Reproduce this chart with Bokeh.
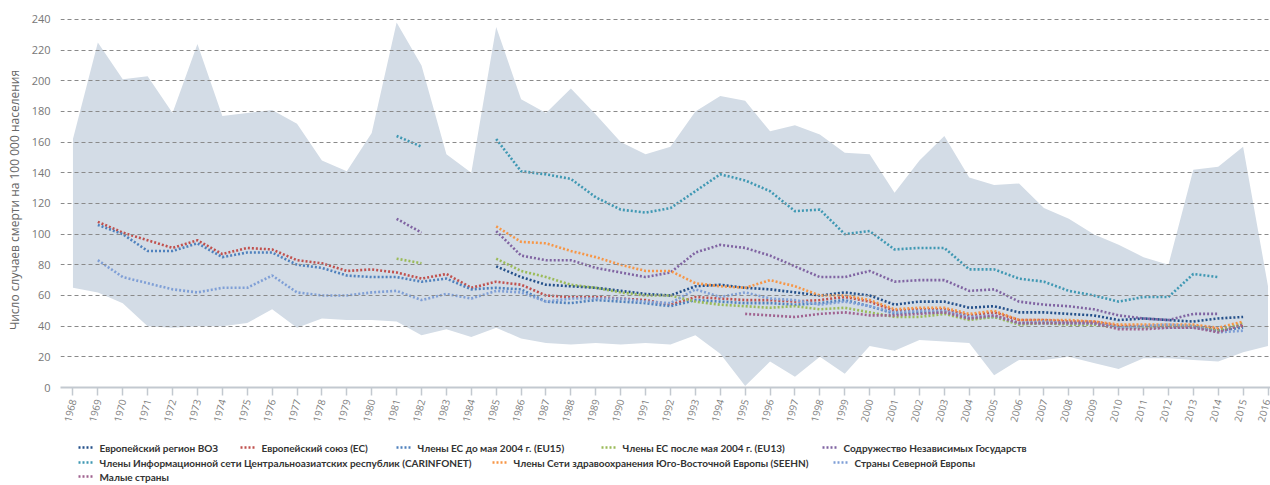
import math
from bokeh.plotting import figure
from bokeh.layouts import column
from bokeh.models import FixedTicker, Range1d
from bokeh.core.properties import value
from bokeh.embed import file_html
from bokeh.resources import INLINE

nan = float("nan")

years = list(range(1968, 2017))

# Range across all countries of the region (shaded band)
band_upper = [162, 225, 201, 203, 179, 224, 177, 179, 181, 172,
              148, 141, 166, 238, 210, 152, 140, 235, 188, 179,
              195, 178, 160, 152, 157, 180, 190, 187, 167, 171,
              165, 153, 152, 127, 148, 164, 137, 132, 133, 117,
              110, 100, 93, 85, 80, 142, 144, 157, 66]
band_lower = [65, 62, 55, 40, 39, 40, 40, 42, 51, 39,
              45, 44, 44, 43, 34, 38, 33, 39, 32, 29,
              28, 29, 28, 29, 28, 34, 22, 1, 17, 7,
              20, 9, 27, 24, 31, 30, 29, 8, 18, 18,
              20, 16, 12, 19, 19, 18, 17, 23, 27]

# Group averages, one value per year 1968-2016 (nan = no data)
who_europe = [nan, nan, nan, nan, nan, nan, nan, nan, nan, nan,
              nan, nan, nan, nan, nan, nan, nan, 79, 72, 67,
              66, 65, 63, 61, 60, 66, 67, 65, 64, 62,
              60, 62, 60, 54, 56, 56, 52, 53, 49, 49,
              48, 47, 44, 45, 44, 43, 45, 46, nan]
eu = [nan, 108, 101, 96, 91, 96, 87, 91, 90, 83,
      81, 76, 77, 75, 71, 74, 65, 69, 67, 60,
      59, 59, 58, 57, 54, 59, 58, 57, 57, 56,
      57, 59, 56, 50, 51, 51, 47, 49, 44, 44,
      43, 43, 40, 40, 40, 40, 38, 40, nan]
eu15 = [nan, 106, 100, 89, 89, 94, 85, 88, 88, 80,
        78, 73, 72, 72, 69, 71, 64, 65, 64, 56,
        55, 57, 56, 55, 53, 57, 56, 55, 55, 54,
        55, 57, 53, 48, 49, 49, 45, 46, 42, 42,
        42, 42, 39, 39, 39, 39, 37, 39, nan]
eu13 = [nan, nan, nan, nan, nan, nan, nan, nan, nan, nan,
        nan, nan, nan, 84, 81, nan, nan, 84, 76, 72,
        67, 65, 62, 60, 60, 56, 54, 53, 52, 53,
        51, 52, 49, 46, 46, 48, 44, 46, 41, 42,
        41, 41, 39, 39, 40, 40, 37, 42, nan]
cis = [nan, nan, nan, nan, nan, nan, nan, nan, nan, nan,
       nan, nan, nan, 110, 101, nan, nan, 102, 86, 83,
       83, 78, 75, 72, 75, 88, 93, 91, 86, 79,
       72, 72, 76, 69, 70, 70, 63, 64, 56, 54,
       53, 51, 47, 45, 44, 48, 48, nan, nan]
carinfonet = [nan, nan, nan, nan, nan, nan, nan, nan, nan, nan,
              nan, nan, nan, 164, 157, nan, nan, 162, 141, 139,
              136, 124, 116, 114, 117, 128, 139, 135, 128, 115,
              116, 100, 102, 90, 91, 91, 77, 77, 71, 69,
              63, 60, 56, 59, 59, 74, 72, nan, nan]
seehn = [nan, nan, nan, nan, nan, nan, nan, nan, nan, nan,
         nan, nan, nan, nan, nan, nan, nan, 105, 95, 94,
         89, 85, 80, 76, 76, 68, 66, 65, 70, 66,
         60, 60, 57, 51, 52, 52, 48, 50, 44, 44,
         44, 43, 41, 41, 41, 41, 39, 43, nan]
nordic = [nan, 83, 72, 68, 64, 62, 65, 65, 73, 62,
          60, 60, 62, 63, 57, 61, 58, 63, 62, 56,
          58, 58, 58, 56, 55, 64, 59, 62, 58, 57,
          54, 56, 53, 49, 50, 50, 46, 47, 42, 43,
          42, 42, 39, 40, 41, 40, 36, 37, nan]
small = [nan, nan, nan, nan, nan, nan, nan, nan, nan, nan,
         nan, nan, nan, nan, nan, nan, nan, nan, nan, nan,
         nan, nan, nan, nan, nan, nan, nan, 48, 47, 46,
         48, 49, 47, 47, 48, 49, 45, 47, 42, 42,
         42, 42, 38, 38, 39, 39, 36, 41, nan]

series_names = [
    "Европейский регион ВОЗ",
    "Европейский союз (ЕС)",
    "Члены ЕС до мая 2004 г. (EU15)",
    "Члены ЕС после мая 2004 г. (EU13)",
    "Содружество Независимых Государств",
    "Члены Информационной сети Центральноазиатских республик (CARINFONET)",
    "Члены Сети здравоохранения Юго-Восточной Европы (SEEHN)",
    "Страны Северной Европы",
    "Малые страны",
]
series_values = [who_europe, eu, eu15, eu13, cis, carinfonet, seehn, nordic, small]
series_colors = ["#24508a", "#c0504d", "#4f81bd", "#9bbb59", "#8064a2",
                 "#3f98b3", "#f79646", "#7f9fd6", "#a0628f"]

y_ticks = list(range(0, 241, 20))
y_title = "Число случаев смерти на 100 000 населения"

LINE_W = 2.6
LINE_DASH = "2 2"

p = figure(width=1270, height=438, output_backend="svg", toolbar_location=None,
           x_range=Range1d(1967.5, 2016.1), y_range=Range1d(0, 244.5),
           min_border_left=60, min_border_right=0, min_border_top=12,
           min_border_bottom=51)
p.outline_line_color = None
p.background_fill_color = "white"
p.border_fill_color = "white"

# shaded min-max band
p.varea(x=years, y1=band_lower, y2=band_upper, fill_color="#d3dce6",
        level="underlay")

for vals, color in zip(series_values, series_colors):
    p.line(years, vals, line_color=color, line_width=LINE_W, line_dash=LINE_DASH)

# grid
p.xgrid.visible = False
p.ygrid.ticker = FixedTicker(ticks=y_ticks)
p.ygrid.grid_line_color = "#8a8a8a"
p.ygrid.grid_line_dash = "4 3"
p.ygrid.grid_line_width = 1
p.ygrid.level = "glyph"

# y axis
p.yaxis.ticker = FixedTicker(ticks=y_ticks)
p.yaxis.axis_line_color = None
p.yaxis.major_tick_line_color = None
p.yaxis.minor_tick_line_color = None
p.yaxis.major_tick_out = 0
p.yaxis.major_tick_in = 0
p.yaxis.minor_tick_out = 0
p.yaxis.minor_tick_in = 0
p.yaxis.major_label_text_font = "Open Sans"
p.yaxis.major_label_text_font_size = "11px"
p.yaxis.major_label_text_color = "#777777"
p.yaxis.major_label_standoff = 10
p.yaxis.axis_label = y_title
p.yaxis.axis_label_text_font = "Open Sans"
p.yaxis.axis_label_text_font_style = "normal"
p.yaxis.axis_label_text_font_size = "12px"
p.yaxis.axis_label_text_color = "#666666"
p.yaxis.axis_label_standoff = 6

# x axis
p.xaxis.ticker = FixedTicker(ticks=years)
p.xaxis.axis_line_color = "#c3c9d0"
p.xaxis.axis_line_width = 2
p.xaxis.major_tick_line_color = "#c3c9d0"
p.xaxis.major_tick_line_width = 1.5
p.xaxis.major_tick_out = 8
p.xaxis.major_tick_in = 0
p.xaxis.minor_tick_line_color = None
p.xaxis.major_label_orientation = math.radians(75)
p.xaxis.major_label_text_font = "Open Sans"
p.xaxis.major_label_text_font_size = "10px"
p.xaxis.major_label_text_color = "#808080"
p.xaxis.major_label_standoff = 4

# legend strip under the chart (pixel-like ranges, y grows downward)
lg = figure(width=1270, height=47, output_backend="svg", toolbar_location=None,
            x_range=Range1d(60, 1270), y_range=Range1d(47, 0),
            min_border_left=60, min_border_right=0, min_border_top=0,
            min_border_bottom=0, x_axis_type=None, y_axis_type=None)
lg.outline_line_color = None
lg.xgrid.visible = False
lg.ygrid.visible = False
lg.border_fill_color = "white"
lg.background_fill_color = "white"

# left edge of each item's swatch and its row centre
item_x = [78, 240, 396, 601, 822, 78, 492, 833, 78]
item_y = [9, 9, 9, 9, 9, 24, 24, 24, 38]
SWATCH_W = 15
TEXT_GAP = 6

lg.segment(x0=item_x, y0=item_y,
           x1=[x + SWATCH_W for x in item_x], y1=item_y,
           line_color=series_colors, line_width=LINE_W, line_dash=LINE_DASH)
lg.text(x=[x + SWATCH_W + TEXT_GAP for x in item_x], y=item_y, text=series_names,
        text_font=value("Lato"), text_font_style="bold", text_font_size="10px",
        text_color="#333333", text_baseline="middle", text_align="left")

open("out.html", "w").write(file_html(column(p, lg), INLINE))
